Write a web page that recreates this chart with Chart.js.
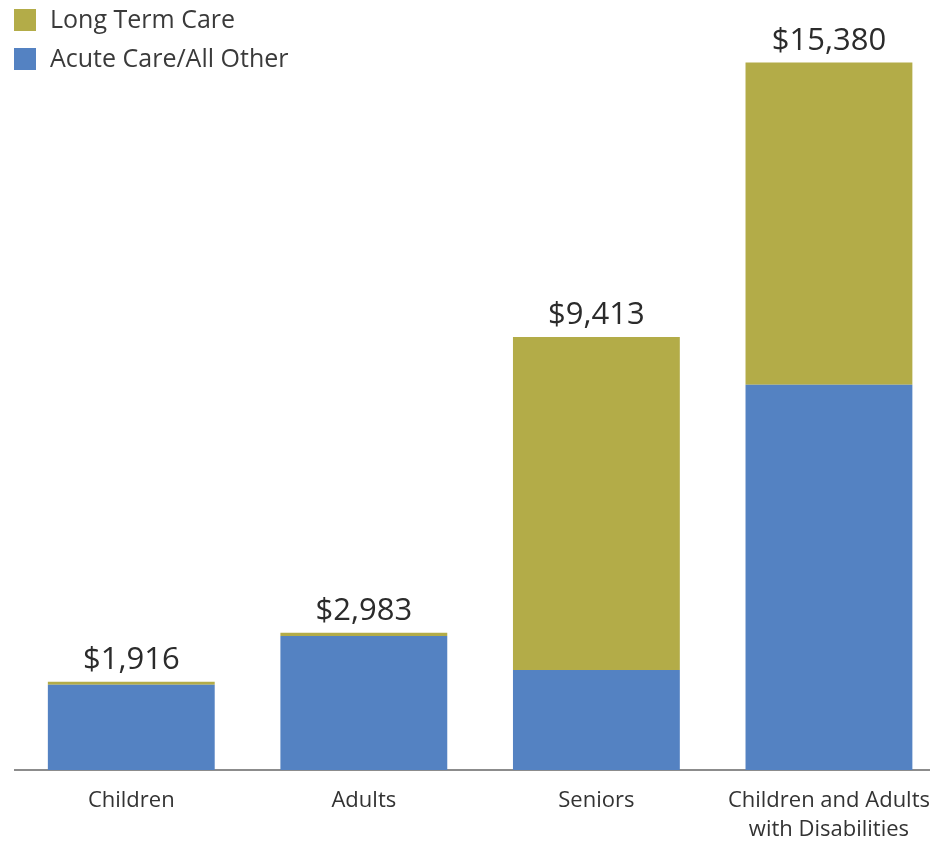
<!DOCTYPE html>
<html>
<head>
<meta charset="utf-8">
<script src="https://cdn.jsdelivr.net/npm/chart.js@4"></script>
<style>
  body { margin: 0; background: #fff; overflow: hidden; }
  #wrap { width: 946px; height: 844px; }
</style>
</head>
<body>
<div id="wrap"><canvas id="spendChart"></canvas></div>
<script>
const groups = ['Children', 'Adults', 'Seniors', ['Children and Adults', 'with Disabilities']];
const acuteCare = [1854, 2915, 2175, 8375];
const longTermCare = [62, 68, 7238, 7005];

const LTC_COLOR = '#b3ac48';
const ACUTE_COLOR = '#5482c2';
const FONT = '"Open Sans", "Noto Sans", sans-serif';

// totals printed above each stack
const totalLabels = {
    id: 'totalLabels',
    afterDatasetsDraw(chart) {
        const ctx = chart.ctx;
        const topMeta = chart.getDatasetMeta(chart.data.datasets.length - 1);
        ctx.save();
        ctx.font = '31px ' + FONT;
        ctx.fillStyle = '#2b2b2b';
        ctx.textAlign = 'center';
        ctx.textBaseline = 'bottom';
        topMeta.data.forEach((bar, i) => {
            let total = 0;
            chart.data.datasets.forEach(ds => total += ds.data[i]);
            ctx.fillText('$' + total.toLocaleString('en-US'), bar.x, bar.y - 6);
        });
        ctx.restore();
    }
};

// stacked legend in the top left corner
const cornerLegend = {
    id: 'cornerLegend',
    afterDraw(chart) {
        const ctx = chart.ctx;
        const items = chart.data.datasets.slice().reverse();
        ctx.save();
        ctx.font = '25px ' + FONT;
        ctx.textBaseline = 'middle';
        items.forEach((ds, i) => {
            let y = 20 + i * 39;
            ctx.fillStyle = ds.backgroundColor;
            ctx.fillRect(14, y - 11, 22, 22);
            ctx.fillStyle = '#3a3a3a';
            ctx.fillText(ds.label, 50, y + 1);
        });
        ctx.restore();
    }
};

let ctx = document.getElementById('spendChart').getContext('2d');

let spendChart = new Chart(ctx, {
    type: 'bar',
    data: {
        labels: groups,
        datasets: [{
            label: 'Acute Care/All Other',
            data: acuteCare,
            backgroundColor: ACUTE_COLOR
        }, {
            label: 'Long Term Care',
            data: longTermCare,
            backgroundColor: LTC_COLOR
        }]
    },
    options: {
        responsive: true,
        maintainAspectRatio: false,
        animation: false,
        categoryPercentage: 1,
        barPercentage: 0.7175,
        layout: {
            padding: { top: 34, left: 15, right: 0, bottom: 0 }
        },
        plugins: {
            legend: { display: false },
            tooltip: { enabled: false }
        },
        scales: {
            x: {
                stacked: true,
                grid: { display: false, drawTicks: false },
                border: { display: true, color: '#8c8c8c', width: 2 },
                afterFit: scale => { scale.height = 74; },
                ticks: {
                    color: '#333',
                    padding: 16,
                    maxRotation: 0,
                    autoSkip: false,
                    font: { family: FONT, size: 22, lineHeight: 1.32 }
                }
            },
            y: {
                stacked: true,
                display: false,
                min: 0,
                max: 16000
            }
        }
    },
    plugins: [totalLabels, cornerLegend]
});
</script>
</body>
</html>
